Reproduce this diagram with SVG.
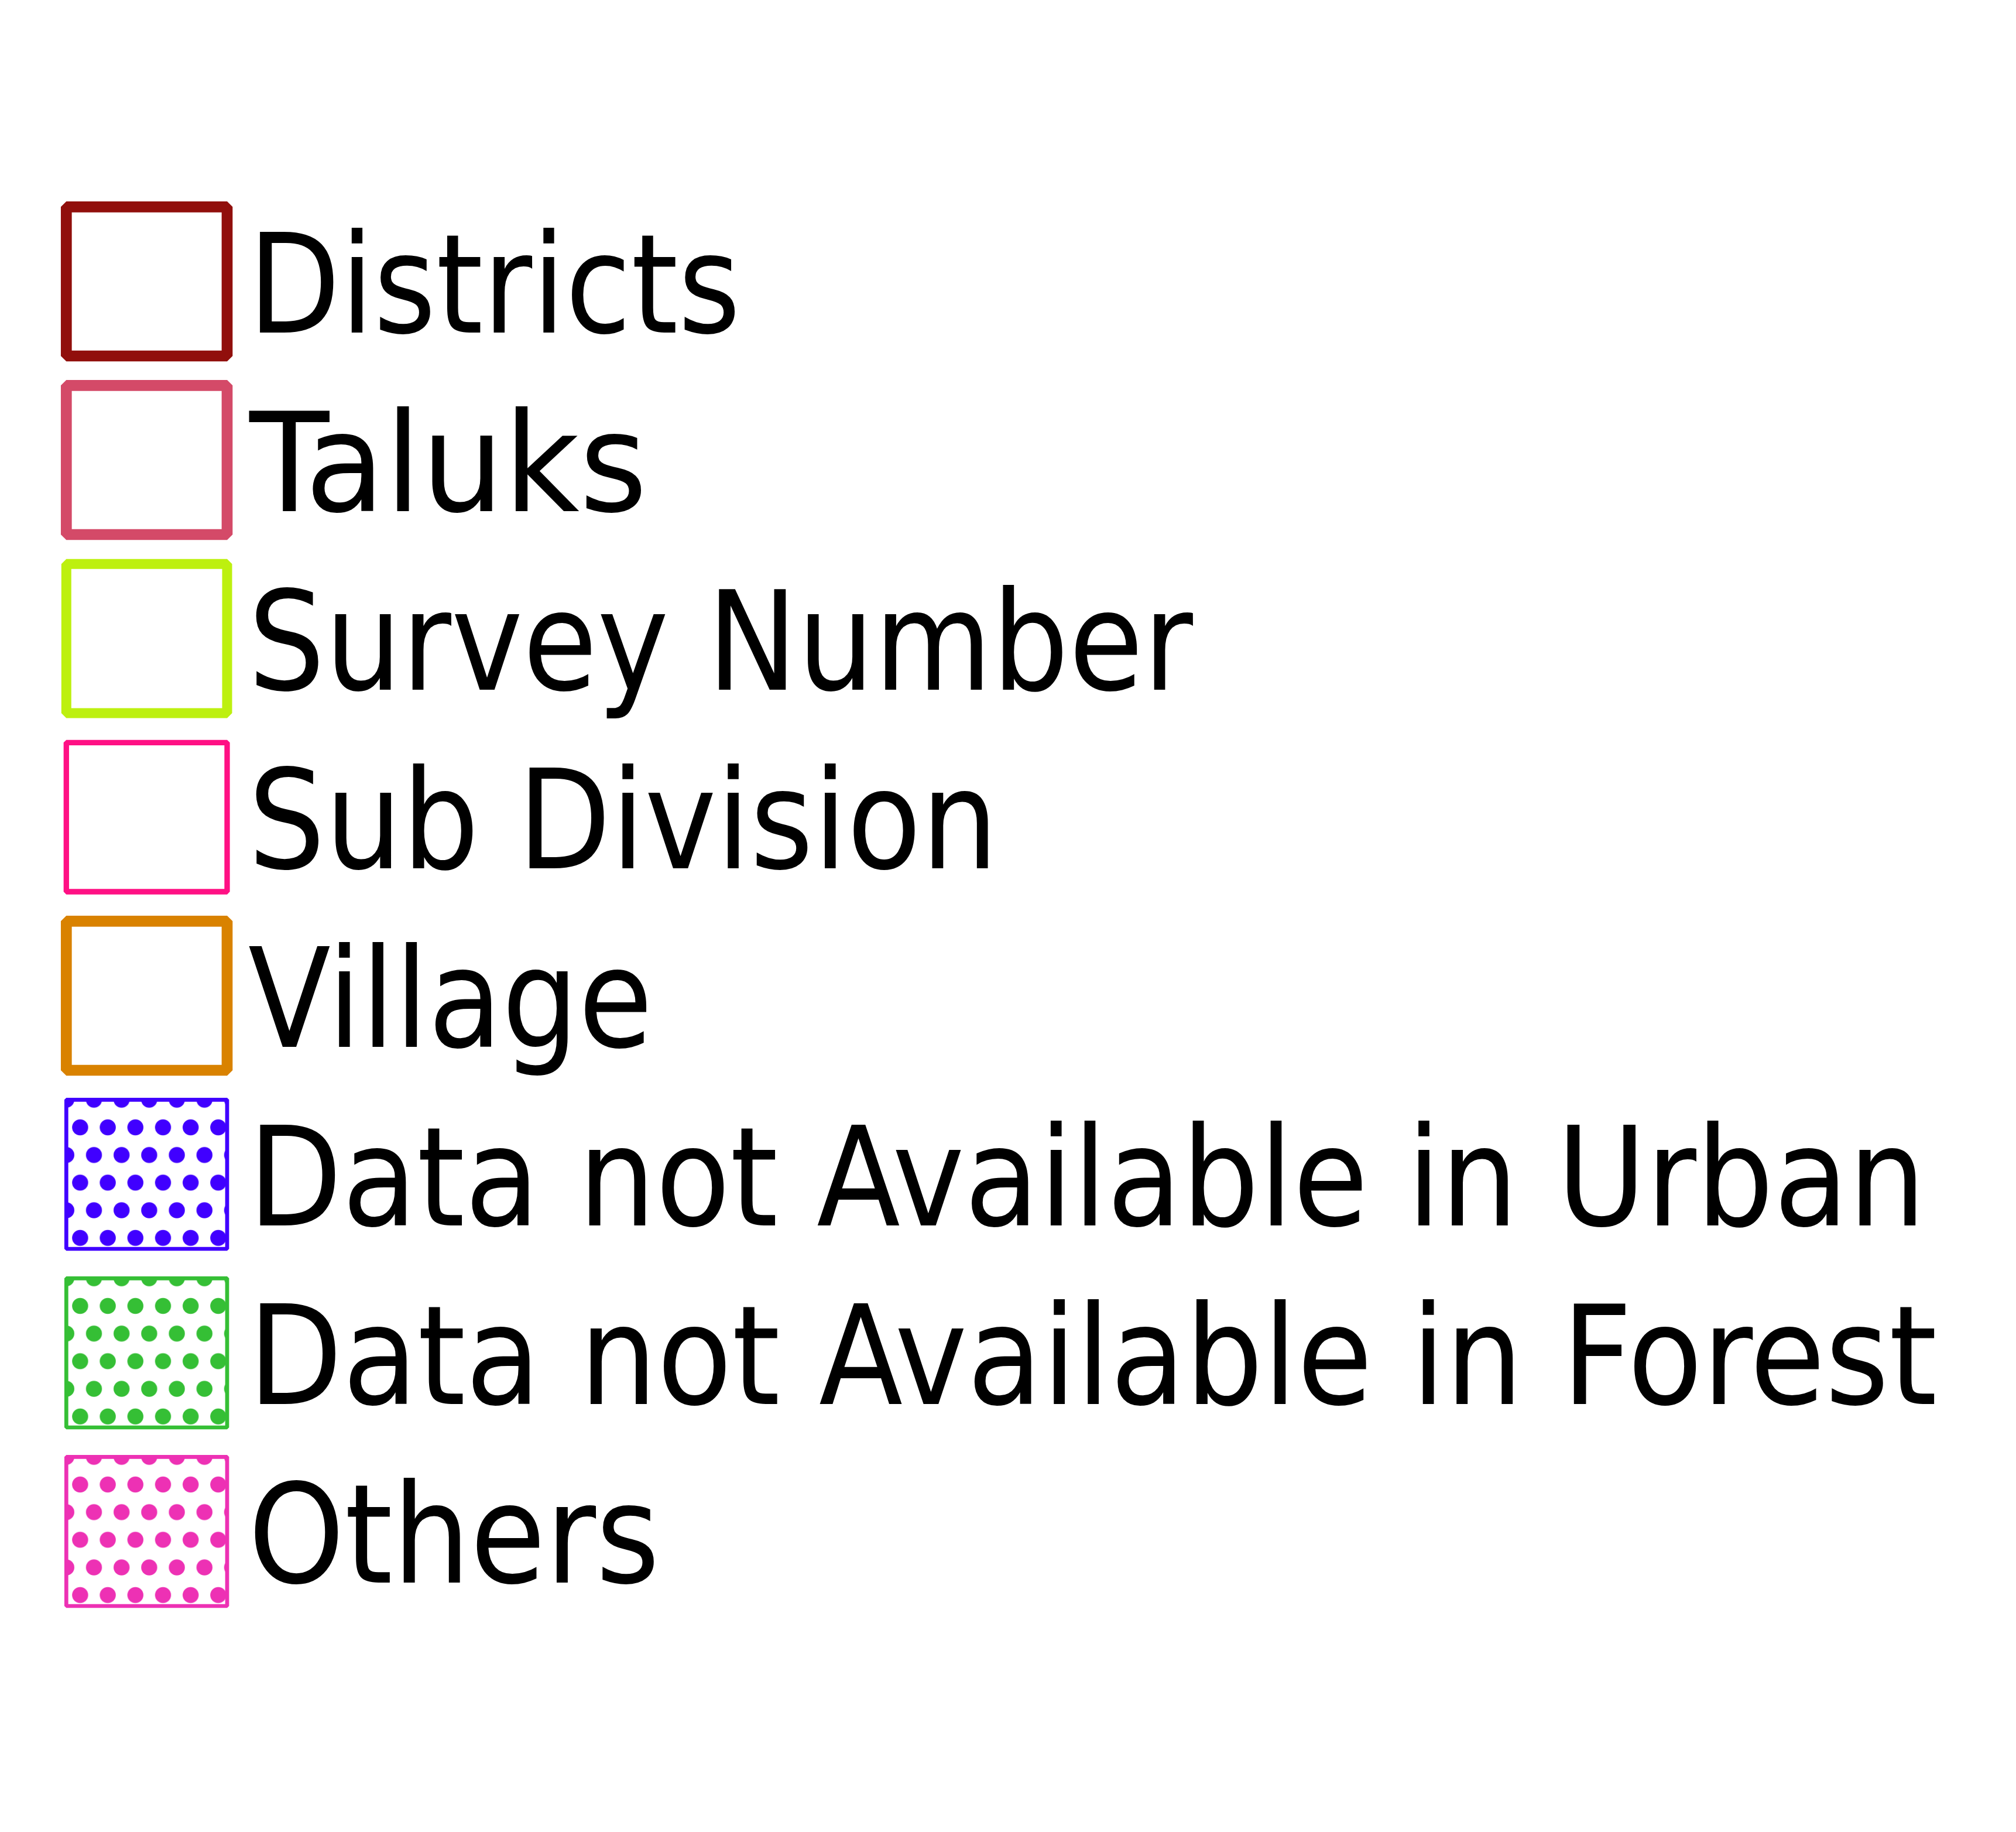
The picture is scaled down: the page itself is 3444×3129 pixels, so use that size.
<svg xmlns="http://www.w3.org/2000/svg" width="3444" height="3129" viewBox="0 0 3444 3129">
<style>
.lbl{font-family:"DejaVu Sans Condensed","DejaVu Sans",sans-serif;font-size:236px;fill:#000}
.box{stroke-linejoin:bevel}
</style>
<defs>
<pattern id="pu" patternUnits="userSpaceOnUse" x="113.3" y="1878.3" width="47.2" height="94.4">
<g fill="#4000ff"><circle cx="0" cy="0" r="13.7"/><circle cx="47.2" cy="0" r="13.7"/><circle cx="0" cy="94.4" r="13.7"/><circle cx="47.2" cy="94.4" r="13.7"/><circle cx="23.6" cy="47.2" r="13.7"/></g>
</pattern>
<pattern id="pf" patternUnits="userSpaceOnUse" x="113.3" y="2183.3" width="47.2" height="94.4">
<g fill="#35bf35"><circle cx="0" cy="0" r="13.7"/><circle cx="47.2" cy="0" r="13.7"/><circle cx="0" cy="94.4" r="13.7"/><circle cx="47.2" cy="94.4" r="13.7"/><circle cx="23.6" cy="47.2" r="13.7"/></g>
</pattern>
<pattern id="po" patternUnits="userSpaceOnUse" x="113.3" y="2488.3" width="47.2" height="94.4">
<g fill="#ed31b4"><circle cx="0" cy="0" r="13.7"/><circle cx="47.2" cy="0" r="13.7"/><circle cx="0" cy="94.4" r="13.7"/><circle cx="47.2" cy="94.4" r="13.7"/><circle cx="23.6" cy="47.2" r="13.7"/></g>
</pattern>
</defs>
<rect width="3444" height="3129" fill="#fff"/>
<g id="districts">
<rect class="box" x="113.3" y="353.3" width="274.7" height="254.7" fill="none" stroke="#910f0c" stroke-width="18.7"/>
<text class="lbl" x="424" y="568" textLength="841" lengthAdjust="spacingAndGlyphs">Districts</text>
</g>
<g id="taluks">
<rect class="box" x="113.3" y="658.3" width="274.7" height="254.7" fill="none" stroke="#d44a68" stroke-width="18.7"/>
<text class="lbl" x="426" y="873" textLength="680" lengthAdjust="spacingAndGlyphs">Taluks</text>
</g>
<g id="survey-number">
<rect class="box" x="113.3" y="963.3" width="274.7" height="254.7" fill="none" stroke="#bdf00f" stroke-width="17"/>
<text class="lbl" x="424" y="1178" textLength="1614" lengthAdjust="spacingAndGlyphs">Survey Number</text>
</g>
<g id="sub-division">
<rect class="box" x="113.3" y="1268.3" width="274.7" height="254.7" fill="none" stroke="#ff1084" stroke-width="9.3"/>
<text class="lbl" x="424" y="1483" textLength="1281" lengthAdjust="spacingAndGlyphs">Sub Division</text>
</g>
<g id="village">
<rect class="box" x="113.3" y="1573.3" width="274.7" height="254.7" fill="none" stroke="#d98200" stroke-width="18.7"/>
<text class="lbl" x="424" y="1788" textLength="691" lengthAdjust="spacingAndGlyphs">Village</text>
</g>
<g id="urban">
<rect class="box" x="113.3" y="1878.3" width="274.7" height="254.7" fill="url(#pu)" stroke="#4000ff" stroke-width="6.7"/>
<text class="lbl" x="424" y="2093" textLength="2866" lengthAdjust="spacingAndGlyphs">Data not Available in Urban</text>
</g>
<g id="forest">
<rect class="box" x="113.3" y="2183.3" width="274.7" height="254.7" fill="url(#pf)" stroke="#35bf35" stroke-width="6.7"/>
<text class="lbl" x="424" y="2398" textLength="2885" lengthAdjust="spacingAndGlyphs">Data not Available in Forest</text>
</g>
<g id="others">
<rect class="box" x="113.3" y="2488.3" width="274.7" height="254.7" fill="url(#po)" stroke="#ed31b4" stroke-width="6.7"/>
<text class="lbl" x="424" y="2703" textLength="703" lengthAdjust="spacingAndGlyphs">Others</text>
</g>
<g id="connectors"/>
</svg>
